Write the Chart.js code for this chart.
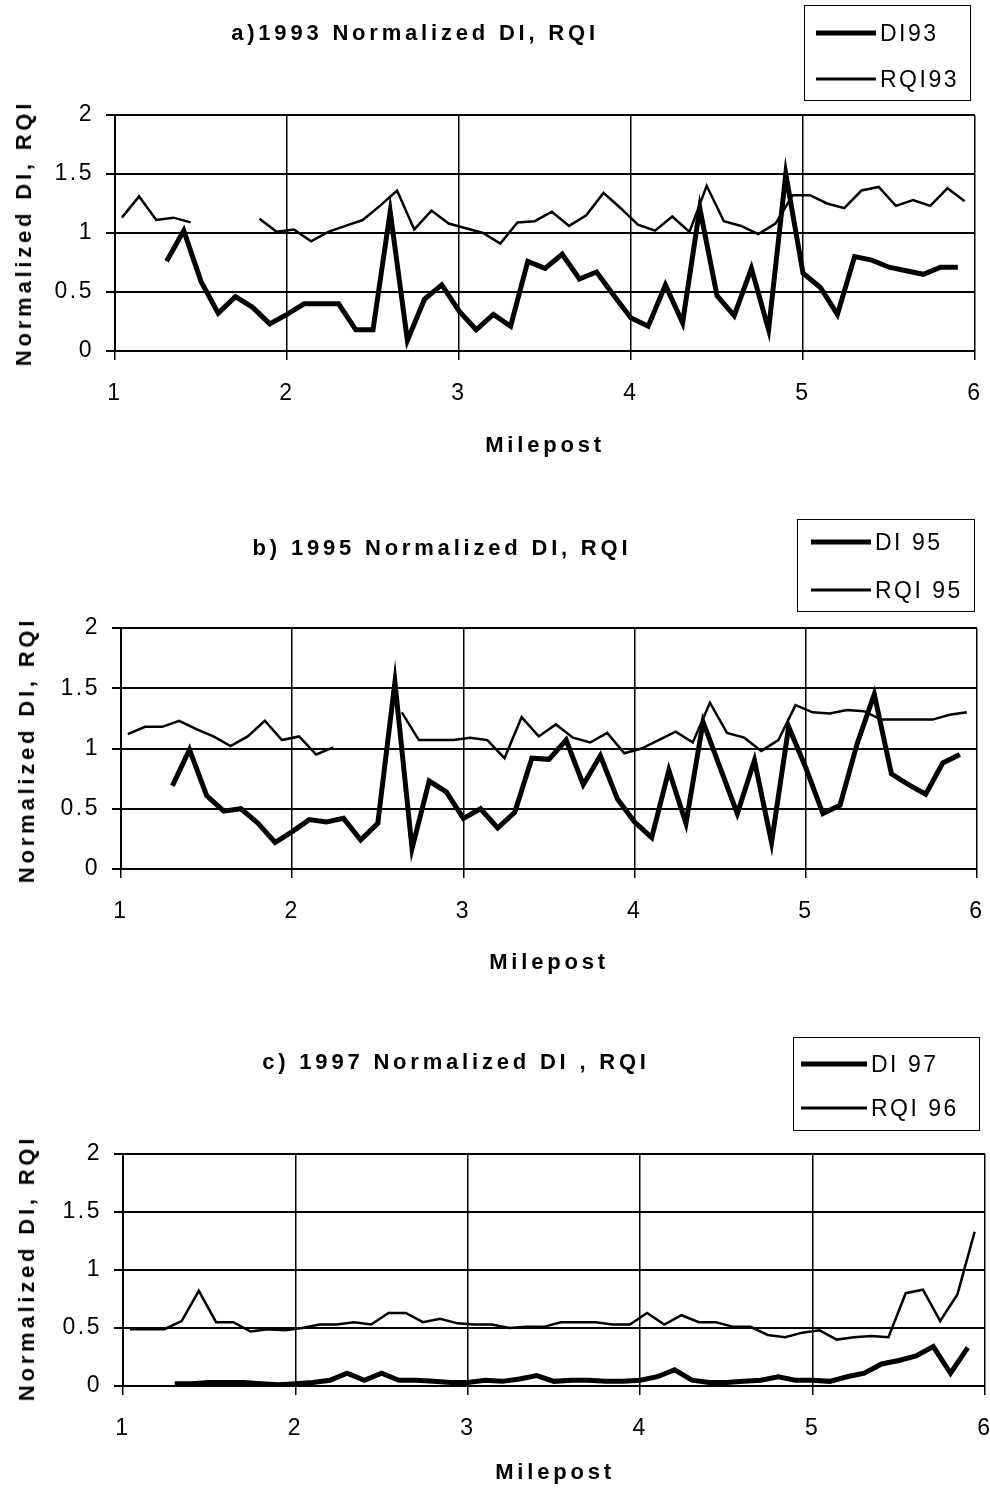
<!DOCTYPE html>
<html>
<head>
<meta charset="utf-8">
<script src="https://cdn.jsdelivr.net/npm/chart.js@4.4.1/dist/chart.umd.min.js"></script>
<style>
  html, body { margin: 0; padding: 0; background: #fff; }
  #page { position: relative; width: 990px; height: 1488px; overflow: hidden;
          font-family: "Liberation Sans", Arial, sans-serif; color: #000; }
  canvas { position: absolute; left: 0; }
  .t { position: absolute; white-space: nowrap; transform: translate(-50%, -50%);
       font-weight: bold; font-size: 22px; letter-spacing: 3.8px; }
  .yt { transform: translate(-50%, -50%) rotate(-90deg); }
  .legend { position: absolute; border: 1.5px solid #000; box-sizing: border-box; }
  .row { position: absolute; display: flex; align-items: center; font-size: 23px;
         letter-spacing: 2.5px; white-space: nowrap; transform: translateY(-50%); }
  .sample { background: #000; margin-right: 4px; }
</style>
</head>
<body>
<div id="page"></div>
<script>
// Mileposts where each series was sampled (RQI sits slightly offset from DI)
const diMileposts = [1.3,1.4,1.5,1.6,1.7,1.8,1.9,2.0,2.1,2.2,2.3,2.4,2.5,2.6,2.7,2.8,2.9,3.0,3.1,3.2,
  3.3,3.4,3.5,3.6,3.7,3.8,3.9,4.0,4.1,4.2,4.3,4.4,4.5,4.6,4.7,4.8,4.9,5.0,5.1,5.2,5.3,5.4,5.5,5.6,5.7,5.8,5.9];
const rqiMileposts = [1.04,1.14,1.24,1.34,1.44,1.54,1.64,1.74,1.84,1.94,2.04,2.14,2.24,2.34,2.44,2.54,2.64,
  2.74,2.84,2.94,3.04,3.14,3.24,3.34,3.44,3.54,3.64,3.74,3.84,3.94,4.04,4.14,4.24,4.34,4.44,4.54,4.64,4.74,
  4.84,4.94,5.04,5.14,5.24,5.34,5.44,5.54,5.64,5.74,5.84,5.94];

const di93 = [0.76,1.02,0.59,0.32,0.46,0.37,0.23,0.31,0.40,0.40,0.40,0.18,0.18,1.18,0.09,0.44,0.56,0.34,0.18,
  0.31,0.21,0.76,0.70,0.82,0.61,0.67,0.47,0.28,0.21,0.56,0.24,1.21,0.47,0.30,0.70,0.18,1.50,0.66,0.54,0.31,
  0.80,0.77,0.71,0.68,0.65,0.71,0.71];
const rqi93 = [1.13,1.31,1.11,1.13,1.09,null,null,null,1.12,1.01,1.03,0.93,1.01,1.06,1.11,1.23,1.36,1.03,1.19,
  1.08,1.04,1.00,0.91,1.09,1.10,1.18,1.06,1.15,1.34,1.21,1.07,1.02,1.14,1.01,1.40,1.10,1.06,0.99,1.08,1.32,
  1.32,1.25,1.21,1.36,1.39,1.23,1.28,1.23,1.38,1.27];

const di95 = [0.69,0.99,0.61,0.48,0.50,0.38,0.22,0.31,0.41,0.39,0.42,0.24,0.38,1.55,0.17,0.73,0.64,0.42,0.50,
  0.34,0.47,0.92,0.91,1.07,0.70,0.94,0.58,0.39,0.26,0.82,0.38,1.22,0.84,0.46,0.90,0.22,1.18,0.84,0.46,0.53,
  1.04,1.45,0.79,0.70,0.62,0.88,0.95];
const rqi95 = [1.12,1.18,1.18,1.23,1.16,1.10,1.02,1.10,1.23,1.07,1.10,0.95,1.01,null,null,null,1.30,1.07,1.07,
  1.07,1.09,1.07,0.92,1.26,1.10,1.20,1.09,1.05,1.13,0.96,1.00,1.07,1.14,1.05,1.38,1.13,1.09,0.98,1.07,1.36,
  1.30,1.29,1.32,1.31,1.24,1.24,1.24,1.24,1.28,1.30];

const di97 = [0.02,0.02,0.03,0.03,0.03,0.02,0.01,0.02,0.03,0.05,0.11,0.05,0.11,0.05,0.05,0.04,0.03,0.03,0.05,
  0.04,0.06,0.09,0.04,0.05,0.05,0.04,0.04,0.05,0.08,0.14,0.05,0.03,0.03,0.04,0.05,0.08,0.05,0.05,0.04,0.08,
  0.11,0.19,0.22,0.26,0.34,0.11,0.33];
const rqi96 = [0.49,0.49,0.49,0.56,0.82,0.55,0.55,0.47,0.49,0.48,0.50,0.53,0.53,0.55,0.53,0.63,0.63,0.55,0.58,
  0.54,0.53,0.53,0.50,0.51,0.51,0.55,0.55,0.55,0.53,0.53,0.63,0.53,0.61,0.55,0.55,0.51,0.51,0.44,0.42,0.46,
  0.48,0.40,0.42,0.43,0.42,0.80,0.83,0.56,0.79,1.33];

const xTickLabels = ['1', '2', '3', '4', '5', '6'];
const yTickLabels = ['0', '0.5', '1', '1.5', '2'];

const FONT = '"Liberation Sans", Arial, sans-serif';
const page = document.getElementById('page');

// Page geometry for each panel (canvas band + plot box, in page pixels)
const panels = [
  { title: 'a)1993 Normalized DI, RQI', titleAt: [415, 33], yTitleAt: [24, 233], xTitleAt: [545, 445],
    di: di93, rqi: rqi93, names: ['DI93', 'RQI93'],
    canvasTop: 0, canvasH: 480, top: 115, bottom: 351, left: 115, right: 975,
    legend: { x: 804, y: 5, w: 167, h: 96, rows: [32, 78], sx: 815, sw: 60 } },
  { title: 'b) 1995 Normalized DI, RQI', titleAt: [442, 548], yTitleAt: [27, 750], xTitleAt: [549, 962],
    di: di95, rqi: rqi95, names: ['DI 95', 'RQI 95'],
    canvasTop: 480, canvasH: 500, top: 628, bottom: 869, left: 121, right: 977,
    legend: { x: 797, y: 519, w: 178, h: 93, rows: [541, 589], sx: 810, sw: 60 } },
  { title: 'c) 1997 Normalized DI , RQI', titleAt: [456, 1062], yTitleAt: [27, 1268], xTitleAt: [555, 1472],
    di: di97, rqi: rqi96, names: ['DI 97', 'RQI 96'],
    canvasTop: 980, canvasH: 508, top: 1154, bottom: 1386, left: 123, right: 985,
    legend: { x: 793, y: 1037, w: 187, h: 94, rows: [1063, 1107], sx: 800, sw: 66 } },
];

// wider glyph spacing, like the scanned figure
const spacing = { id: 'spacing', beforeDraw(chart) { chart.ctx.letterSpacing = '2.5px'; } };

function addText(text, at, cls) {
  const d = document.createElement('div');
  d.className = cls;
  d.textContent = text;
  d.style.left = at[0] + 'px';
  d.style.top = at[1] + 'px';
  page.appendChild(d);
}

function addLegend(p) {
  const L = p.legend;
  const box = document.createElement('div');
  box.className = 'legend';
  Object.assign(box.style, { left: L.x + 'px', top: L.y + 'px', width: L.w + 'px', height: L.h + 'px' });
  page.appendChild(box);
  [5, 2.5].forEach((lw, i) => {
    const row = document.createElement('div');
    row.className = 'row';
    row.style.left = (L.sx - L.x) + 'px';
    row.style.top = (L.rows[i] - L.y) + 'px';
    row.innerHTML = `<span class="sample" style="width:${L.sw}px;height:${lw}px"></span><span>${p.names[i]}</span>`;
    box.appendChild(row);
  });
}

function drawPanel(p) {
  const cv = document.createElement('canvas');
  cv.width = 990; cv.height = p.canvasH;
  cv.style.top = p.canvasTop + 'px';
  page.appendChild(cv);

  const tickFont = { family: FONT, size: 23 };
  new Chart(cv, {
    type: 'scatter',
    data: {
      datasets: [
        { label: p.names[0], data: diMileposts.map((x, i) => ({ x, y: p.di[i] })),
          showLine: true, borderColor: '#000', borderWidth: 5, pointRadius: 0, tension: 0 },
        { label: p.names[1], data: rqiMileposts.map((x, i) => ({ x, y: p.rqi[i] })),
          showLine: true, borderColor: '#000', borderWidth: 2.5, pointRadius: 0, tension: 0 },
      ],
    },
    options: {
      responsive: false,
      animation: false,
      spanGaps: false,
      layout: { padding: { top: p.top - p.canvasTop, right: 990 - p.right, left: 0, bottom: 0 } },
      plugins: { legend: { display: false }, title: { display: false }, tooltip: { enabled: false } },
      scales: {
        x: {
          type: 'linear', min: 1, max: 6,
          ticks: { stepSize: 1, font: tickFont, color: '#000', padding: 20, maxRotation: 0,
                   callback: (v, i) => xTickLabels[i] },
          grid: { color: '#000', lineWidth: 1.5, tickLength: 9 },
          border: { color: '#000', width: 2 },
          afterFit: s => { s.height = p.canvasTop + p.canvasH - p.bottom; s.paddingLeft = 0; s.paddingRight = 0; },
        },
        y: {
          min: 0, max: 2,
          ticks: { stepSize: 0.5, font: tickFont, color: '#000', padding: 12,
                   callback: (v, i) => yTickLabels[i] },
          grid: { color: '#000', lineWidth: 2, tickLength: 9 },
          border: { color: '#000', width: 2 },
          afterFit: s => { s.width = p.left; },
        },
      },
    },
    plugins: [spacing],
  });

  addText(p.title, p.titleAt, 't');
  addText('Normalized DI, RQI', p.yTitleAt, 't yt');
  addText('Milepost', p.xTitleAt, 't');
  addLegend(p);
}

panels.forEach(drawPanel);
</script>
</body>
</html>
